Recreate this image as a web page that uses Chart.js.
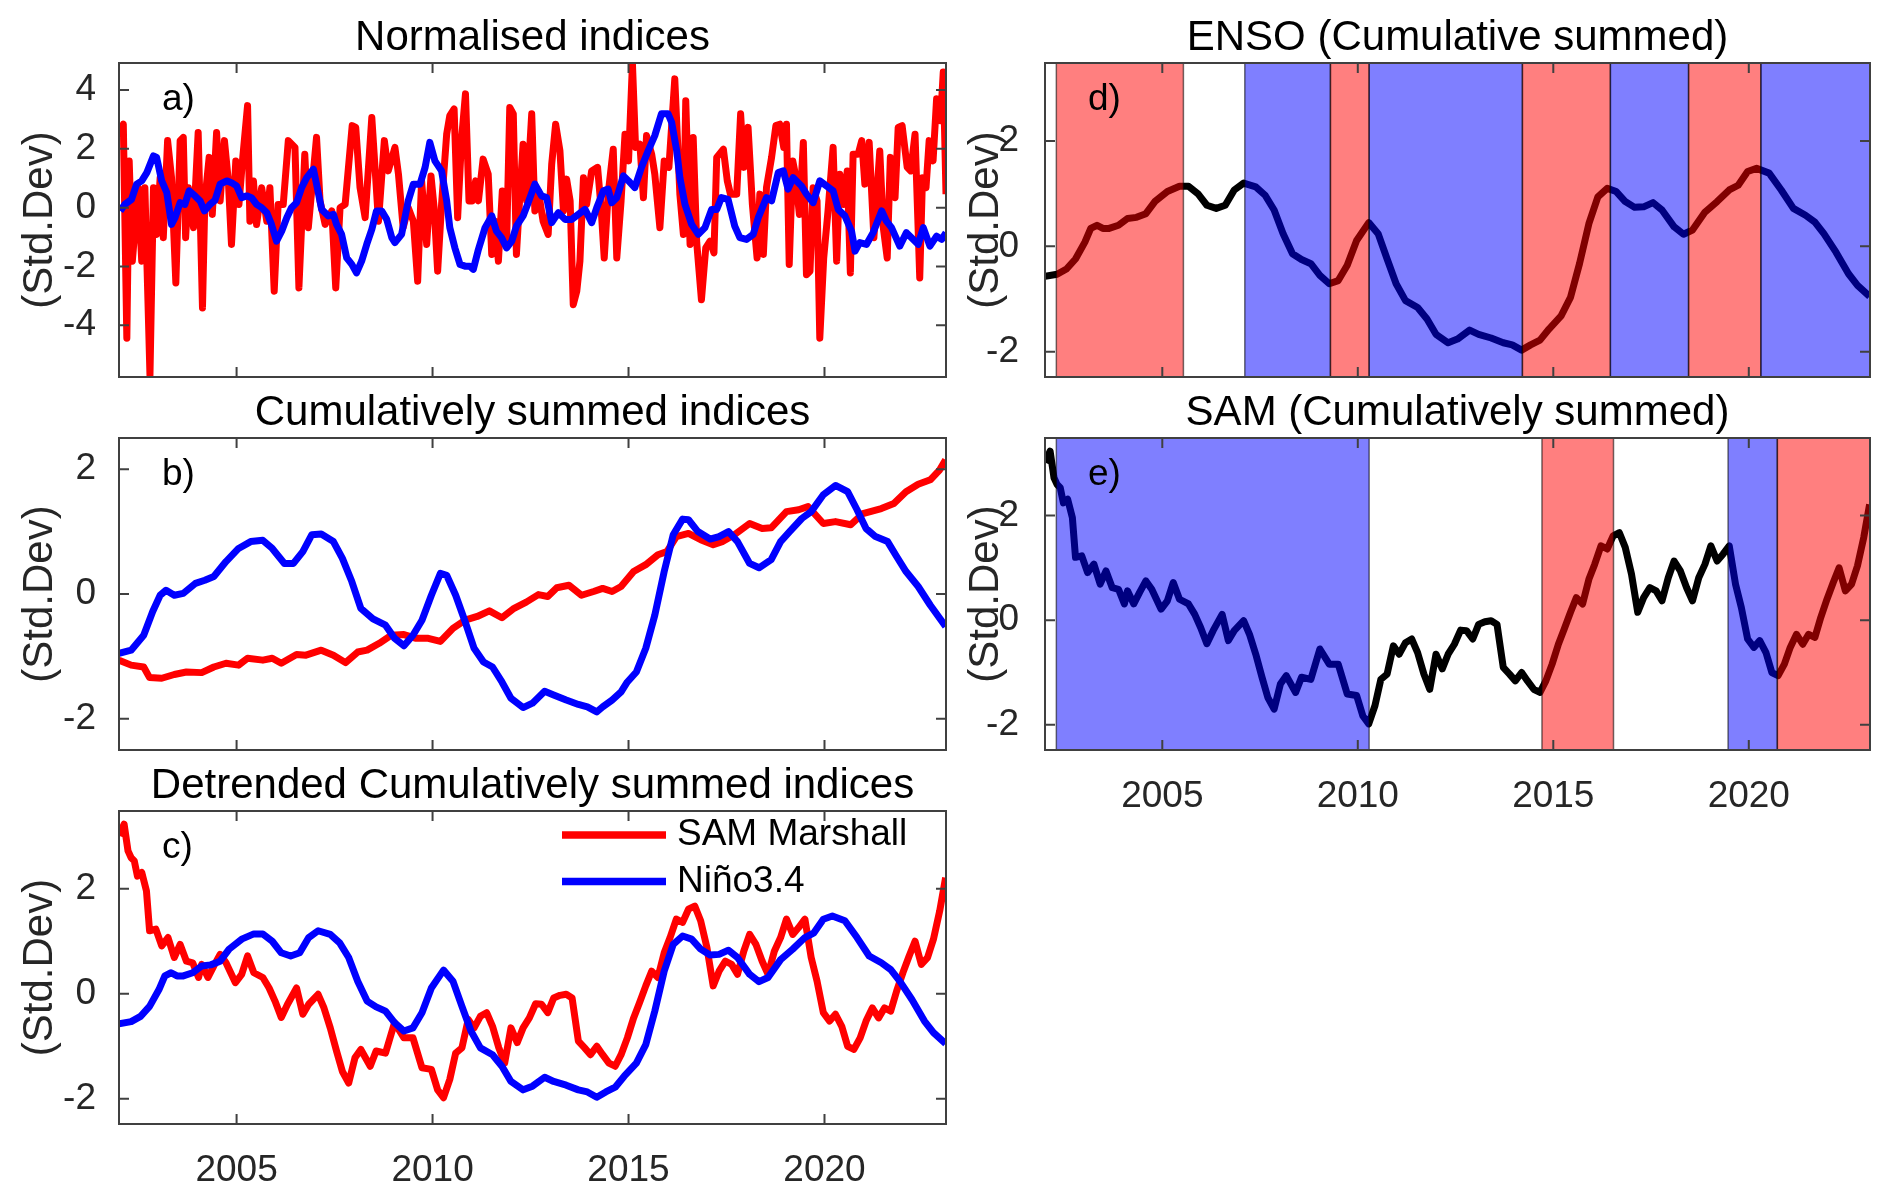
<!DOCTYPE html>
<html>
<head>
<meta charset="utf-8">
<title>SAM and Niño3.4 indices</title>
<script src="https://cdn.jsdelivr.net/npm/chart.js@4.4.1/dist/chart.umd.min.js"></script>
<style>
  html, body { margin: 0; padding: 0; background: #fff; }
  #page { position: relative; width: 1892px; height: 1199px; overflow: hidden; }
  canvas { position: absolute; }
</style>
</head>
<body>
<div id="page">
  <canvas id="panelA" width="960" height="400" style="left:0px;top:0px"></canvas>
  <canvas id="panelB" width="960" height="390" style="left:0px;top:380px"></canvas>
  <canvas id="panelC" width="960" height="444" style="left:0px;top:755px"></canvas>
  <canvas id="panelD" width="942" height="400" style="left:950px;top:0px"></canvas>
  <canvas id="panelE" width="942" height="440" style="left:950px;top:380px"></canvas>
</div>
<script>
// ---- data ----
const yearTicks = [2005, 2010, 2015, 2020];
const normTicks = [-4, -2, 0, 2, 4];
const cumTicks = [-2, 0, 2];

// a) normalised SAM (Marshall)
const samNormYears = [
  2002.00,2002.11,2002.20,2002.26,2002.34,2002.41,2002.49,2002.58,2002.66,2002.79,
  2002.88,2002.96,2003.05,2003.13,2003.24,2003.34,2003.45,2003.56,2003.64,2003.70,
  2003.77,2003.90,2004.02,2004.13,2004.19,2004.30,2004.38,2004.49,2004.58,2004.69,
  2004.79,2004.87,2004.98,2005.06,2005.15,2005.28,2005.34,2005.43,2005.51,2005.64,
  2005.77,2005.85,2005.96,2006.06,2006.19,2006.32,2006.49,2006.59,2006.74,2006.83,
  2007.04,2007.13,2007.26,2007.43,2007.53,2007.64,2007.77,2007.95,2008.04,2008.15,
  2008.28,2008.45,2008.62,2008.77,2008.87,2009.04,2009.13,2009.25,2009.38,2009.51,
  2009.62,2009.72,2009.85,2009.96,2010.04,2010.13,2010.23,2010.36,2010.44,2010.55,
  2010.64,2010.74,2010.84,2010.93,2011.01,2011.10,2011.17,2011.29,2011.42,2011.51,
  2011.59,2011.68,2011.78,2011.89,2011.97,2012.06,2012.14,2012.23,2012.31,2012.40,
  2012.53,2012.61,2012.70,2012.82,2012.95,2013.04,2013.14,2013.25,2013.34,2013.42,
  2013.51,2013.59,2013.68,2013.76,2013.85,2013.93,2014.06,2014.21,2014.30,2014.38,
  2014.48,2014.61,2014.70,2014.81,2014.91,2015.00,2015.10,2015.18,2015.29,2015.38,
  2015.46,2015.59,2015.67,2015.80,2015.91,2016.03,2016.18,2016.31,2016.40,2016.46,
  2016.57,2016.65,2016.74,2016.86,2016.97,2017.08,2017.18,2017.25,2017.42,2017.52,
  2017.60,2017.76,2017.86,2017.94,2018.05,2018.16,2018.28,2018.35,2018.44,2018.52,
  2018.65,2018.76,2018.86,2018.96,2019.03,2019.10,2019.19,2019.24,2019.36,2019.46,
  2019.54,2019.63,2019.71,2019.81,2019.88,2019.98,2020.09,2020.22,2020.31,2020.39,
  2020.49,2020.58,2020.66,2020.73,2020.86,2020.95,2021.03,2021.14,2021.26,2021.41,
  2021.50,2021.60,2021.68,2021.80,2021.88,2021.98,2022.11,2022.20,2022.31,2022.43,
  2022.50,2022.59,2022.67,2022.77,2022.86,2022.96,2023.03,2023.10
];
const samNormValues = [
  2.39,2.84,-4.44,1.59,-1.82,-0.68,0.68,-1.82,0.68,-5.70,
  0.68,-0.91,1.02,-1.02,2.28,1.02,-2.56,2.28,2.39,-1.02,
  0.68,-0.68,2.56,-3.41,0.23,1.71,-0.23,2.56,0.23,2.28,
  0.91,-1.25,1.59,0.11,1.59,3.47,-0.46,0.91,-0.57,0.68,
  -0.46,0.68,-2.84,0.11,0.11,2.28,2.05,-2.73,1.82,-0.68,
  2.39,0.23,-0.57,-0.11,-2.73,0.00,0.11,2.79,2.73,0.68,
  -0.34,3.07,-0.46,2.28,1.25,2.05,1.14,-0.68,0.00,-0.46,
  -2.50,0.91,-1.25,1.08,0.00,-2.16,0.11,2.50,3.13,3.36,
  -0.34,2.33,3.87,0.23,0.23,0.91,0.23,1.65,1.14,-1.59,
  -0.46,-1.82,0.57,-1.14,3.41,3.19,-1.59,0.46,2.16,0.23,
  3.19,-0.11,0.57,-0.46,-0.91,1.48,2.84,1.93,-0.11,0.97,
  0.23,-3.30,-2.84,-1.82,1.02,0.11,1.25,1.37,0.00,-1.71,
  0.46,1.99,-1.71,0.23,2.50,1.59,4.89,2.05,2.16,0.34,
  2.45,1.82,1.14,-0.68,1.59,1.37,4.38,0.46,-0.91,3.64,
  -1.25,2.39,-1.19,-3.13,-1.37,-1.14,-1.54,1.71,1.99,0.91,
  0.46,0.46,3.19,1.37,2.73,0.11,-1.71,0.46,-1.59,0.68,
  1.71,2.79,2.84,2.05,2.84,-1.93,1.59,1.25,-0.23,2.22,
  -2.28,-2.16,0.68,0.23,-4.44,-1.71,-0.11,2.05,-1.82,1.14,
  0.11,1.25,-2.22,1.82,1.82,2.28,0.80,2.22,-1.02,1.93,
  -0.68,-1.71,1.71,0.34,2.73,2.79,1.37,1.25,2.50,-2.39,
  1.02,0.68,2.28,1.59,3.70,2.96,4.61,0.46
];

// a) normalised Niño3.4
const ninoNormYears = [
  2002.03,2002.15,2002.32,2002.45,2002.58,2002.71,2002.88,2002.96,2003.09,2003.22,
  2003.34,2003.43,2003.56,2003.68,2003.79,2003.94,2004.07,2004.18,2004.32,2004.45,
  2004.58,2004.75,2004.87,2005.00,2005.13,2005.26,2005.38,2005.51,2005.64,2005.77,
  2005.89,2006.02,2006.15,2006.28,2006.40,2006.53,2006.66,2006.79,2006.96,2007.04,
  2007.17,2007.34,2007.47,2007.55,2007.68,2007.81,2007.94,2008.06,2008.19,2008.32,
  2008.45,2008.57,2008.70,2008.83,2008.96,2009.04,2009.21,2009.38,2009.51,2009.68,
  2009.81,2009.93,2010.06,2010.23,2010.36,2010.44,2010.57,2010.70,2010.83,2010.95,
  2011.04,2011.17,2011.34,2011.51,2011.63,2011.76,2011.89,2012.02,2012.14,2012.31,
  2012.44,2012.61,2012.78,2012.91,2013.04,2013.21,2013.38,2013.55,2013.72,2013.89,
  2014.06,2014.19,2014.36,2014.48,2014.57,2014.70,2014.87,2015.00,2015.16,2015.33,
  2015.50,2015.67,2015.84,2016.01,2016.10,2016.23,2016.31,2016.44,2016.61,2016.78,
  2016.95,2017.12,2017.25,2017.37,2017.54,2017.71,2017.84,2018.01,2018.18,2018.31,
  2018.52,2018.65,2018.82,2018.95,2019.07,2019.20,2019.41,2019.54,2019.71,2019.88,
  2020.05,2020.22,2020.35,2020.52,2020.69,2020.78,2020.90,2021.07,2021.24,2021.46,
  2021.58,2021.71,2021.92,2022.09,2022.22,2022.39,2022.52,2022.69,2022.86,2022.99,
  2023.10
];
const ninoNormValues = [
  -0.11,0.11,0.28,0.80,0.91,1.19,1.76,1.71,0.91,0.51,
  -0.57,-0.34,0.17,0.11,0.57,0.40,0.23,-0.11,0.11,0.25,
  0.80,0.91,0.85,0.74,0.34,0.40,0.34,0.11,0.00,-0.17,
  -0.57,-1.14,-0.80,-0.34,0.00,0.17,0.68,1.02,1.31,0.80,
  -0.06,-0.28,-0.23,-0.57,-0.91,-1.71,-1.93,-2.22,-1.82,-1.25,
  -0.74,-0.11,-0.11,-0.40,-1.02,-1.19,-0.91,0.23,0.80,0.80,
  1.37,2.22,1.59,1.25,0.23,-0.68,-1.37,-1.93,-1.99,-1.99,
  -2.10,-1.42,-0.68,-0.28,-0.80,-1.02,-1.37,-1.14,-0.63,-0.28,
  0.17,0.80,0.40,0.34,-0.51,-0.17,-0.40,-0.40,-0.23,-0.06,
  -0.51,0.00,0.57,0.63,0.17,0.34,1.08,0.91,0.68,1.37,
  1.93,2.45,3.19,3.19,2.90,1.93,1.02,0.11,-0.57,-0.91,
  -0.68,-0.06,-0.06,0.34,0.28,-0.63,-1.02,-1.08,-0.91,-0.34,
  0.34,0.23,1.19,1.25,0.63,1.02,0.74,0.46,0.17,0.91,
  0.74,0.57,-0.06,-0.28,-0.80,-1.48,-1.19,-1.25,-0.85,-0.11,
  -0.46,-0.68,-1.31,-0.85,-1.02,-1.25,-0.68,-1.31,-0.97,-1.08,
  -0.85
];

// b) cumulatively summed SAM
const samCumYears = [
  2002.00,2002.31,2002.63,2002.78,2003.09,2003.41,2003.72,2004.11,2004.42,2004.73,
  2005.05,2005.28,2005.67,2005.91,2006.14,2006.53,2006.77,2007.16,2007.47,2007.78,
  2008.09,2008.33,2008.64,2008.95,2009.27,2009.58,2009.89,2010.20,2010.52,2010.83,
  2011.14,2011.45,2011.77,2012.08,2012.39,2012.70,2012.94,2013.17,2013.48,2013.80,
  2014.11,2014.34,2014.58,2014.81,2015.13,2015.44,2015.75,2015.98,2016.22,2016.53,
  2016.84,2017.16,2017.39,2017.70,2018.09,2018.41,2018.64,2019.03,2019.34,2019.58,
  2019.97,2020.28,2020.67,2020.98,2021.45,2021.77,2022.08,2022.39,2022.70,2022.94,
  2023.09
];
const samCumValues = [
  -1.06,-1.14,-1.17,-1.34,-1.35,-1.29,-1.25,-1.26,-1.17,-1.11,
  -1.14,-1.03,-1.06,-1.03,-1.11,-0.97,-0.98,-0.90,-0.98,-1.10,
  -0.93,-0.90,-0.79,-0.66,-0.65,-0.71,-0.71,-0.76,-0.55,-0.42,
  -0.36,-0.27,-0.38,-0.23,-0.13,-0.01,-0.04,0.10,0.14,-0.02,
  0.04,0.09,0.04,0.12,0.36,0.47,0.63,0.68,0.92,0.97,
  0.87,0.79,0.84,0.95,1.13,1.05,1.06,1.32,1.35,1.40,
  1.13,1.16,1.11,1.29,1.37,1.45,1.64,1.76,1.83,1.99,
  2.15
];

// b) cumulatively summed Niño3.4
const ninoCumYears = [
  2002.00,2002.31,2002.63,2002.86,2003.05,2003.20,2003.41,2003.64,2003.95,2004.19,
  2004.42,2004.73,2005.05,2005.36,2005.67,2005.91,2006.22,2006.45,2006.69,2006.92,
  2007.16,2007.47,2007.70,2007.94,2008.17,2008.48,2008.80,2009.03,2009.27,2009.50,
  2009.73,2009.97,2010.20,2010.36,2010.59,2010.83,2011.06,2011.30,2011.53,2011.77,
  2012.00,2012.31,2012.55,2012.86,2013.09,2013.41,2013.72,2013.95,2014.19,2014.34,
  2014.58,2014.81,2014.97,2015.20,2015.44,2015.67,2015.91,2016.14,2016.38,2016.53,
  2016.77,2017.08,2017.31,2017.55,2017.78,2018.09,2018.33,2018.64,2018.88,2019.11,
  2019.42,2019.66,2019.97,2020.28,2020.59,2020.83,2021.06,2021.30,2021.61,2021.84,
  2022.08,2022.39,2022.70,2023.09
];
const ninoCumValues = [
  -0.95,-0.90,-0.66,-0.28,-0.02,0.06,-0.02,0.01,0.17,0.22,
  0.28,0.52,0.73,0.84,0.86,0.73,0.49,0.49,0.68,0.95,
  0.96,0.84,0.57,0.20,-0.23,-0.40,-0.50,-0.71,-0.83,-0.66,
  -0.42,-0.02,0.33,0.30,-0.02,-0.44,-0.87,-1.09,-1.17,-1.41,
  -1.67,-1.82,-1.75,-1.56,-1.62,-1.70,-1.77,-1.81,-1.89,-1.81,
  -1.70,-1.57,-1.41,-1.25,-0.87,-0.34,0.36,0.95,1.20,1.19,
  1.00,0.88,0.92,1.00,0.84,0.49,0.42,0.55,0.84,1.00,
  1.21,1.32,1.59,1.74,1.64,1.35,1.05,0.92,0.84,0.60,
  0.36,0.12,-0.18,-0.52
];

// c), e) detrended cumulatively summed SAM
const samDetYears = [
  2002.00,2002.13,2002.23,2002.31,2002.39,2002.47,2002.58,2002.70,2002.78,2002.94,
  2003.09,2003.25,2003.41,2003.56,2003.72,2003.88,2004.03,2004.11,2004.27,2004.42,
  2004.58,2004.73,2004.97,2005.13,2005.28,2005.44,2005.67,2005.83,2005.98,2006.14,
  2006.30,2006.53,2006.69,2006.84,2007.08,2007.23,2007.39,2007.55,2007.70,2007.86,
  2008.02,2008.17,2008.41,2008.56,2008.80,2009.03,2009.27,2009.50,2009.73,2009.97,
  2010.13,2010.28,2010.44,2010.59,2010.75,2010.91,2011.06,2011.22,2011.38,2011.53,
  2011.69,2011.84,2012.00,2012.16,2012.31,2012.47,2012.63,2012.78,2012.94,2013.09,
  2013.25,2013.41,2013.56,2013.72,2013.88,2014.03,2014.19,2014.34,2014.50,2014.66,
  2014.81,2014.97,2015.13,2015.28,2015.44,2015.59,2015.75,2015.91,2016.06,2016.22,
  2016.38,2016.53,2016.69,2016.84,2017.00,2017.16,2017.31,2017.47,2017.63,2017.78,
  2017.94,2018.09,2018.25,2018.41,2018.56,2018.72,2018.88,2019.03,2019.19,2019.34,
  2019.50,2019.66,2019.81,2019.97,2020.13,2020.28,2020.44,2020.59,2020.75,2020.91,
  2021.06,2021.22,2021.38,2021.53,2021.69,2021.84,2022.00,2022.16,2022.31,2022.47,
  2022.63,2022.78,2022.94,2023.09
];
const samDetValues = [
  3.01,3.23,2.72,2.59,2.53,2.24,2.31,1.96,1.20,1.23,
  0.91,1.07,0.69,0.94,0.62,0.59,0.31,0.56,0.31,0.53,
  0.75,0.59,0.21,0.37,0.72,0.40,0.31,0.11,-0.14,-0.45,
  -0.20,0.11,-0.39,-0.20,-0.01,-0.27,-0.65,-1.09,-1.48,-1.70,
  -1.22,-1.06,-1.38,-1.09,-1.13,-0.55,-0.84,-0.84,-1.41,-1.44,
  -1.83,-1.98,-1.63,-1.13,-1.03,-0.49,-0.65,-0.43,-0.36,-0.62,
  -1.03,-1.32,-0.65,-0.93,-0.65,-0.46,-0.19,-0.20,-0.36,-0.08,
  -0.03,-0.01,-0.08,-0.90,-1.03,-1.16,-1.00,-1.16,-1.32,-1.38,
  -1.16,-0.84,-0.46,-0.17,0.15,0.43,0.31,0.78,1.07,1.42,
  1.36,1.61,1.67,1.39,0.88,0.15,0.43,0.62,0.56,0.37,
  0.81,1.13,0.94,0.62,0.37,0.81,1.07,1.42,1.13,1.26,
  1.42,0.69,0.24,-0.36,-0.52,-0.39,-0.62,-1.00,-1.06,-0.84,
  -0.52,-0.27,-0.46,-0.27,-0.33,0.05,0.40,0.72,1.00,0.56,
  0.69,1.04,1.58,2.21
];

// c), d) detrended cumulatively summed Niño3.4
const ninoDetYears = [
  2002.00,2002.31,2002.55,2002.78,2003.02,2003.17,2003.33,2003.48,2003.64,2003.88,
  2004.11,2004.34,2004.58,2004.81,2005.13,2005.44,2005.67,2005.91,2006.14,2006.38,
  2006.61,2006.84,2007.08,2007.39,2007.63,2007.86,2008.09,2008.33,2008.56,2008.80,
  2009.03,2009.27,2009.50,2009.73,2009.97,2010.28,2010.52,2010.75,2010.98,2011.22,
  2011.53,2011.77,2012.00,2012.31,2012.55,2012.86,2013.09,2013.41,2013.72,2013.95,
  2014.19,2014.42,2014.66,2014.89,2015.20,2015.44,2015.67,2015.91,2016.14,2016.38,
  2016.61,2016.84,2017.08,2017.31,2017.55,2017.78,2018.09,2018.33,2018.56,2018.88,
  2019.19,2019.50,2019.73,2019.97,2020.20,2020.52,2020.83,2021.14,2021.45,2021.69,
  2021.92,2022.23,2022.55,2022.78,2023.09
];
const ninoDetValues = [
  -0.57,-0.53,-0.43,-0.24,0.08,0.34,0.40,0.34,0.34,0.40,
  0.53,0.55,0.62,0.85,1.04,1.14,1.14,1.00,0.78,0.72,
  0.78,1.07,1.20,1.13,0.97,0.69,0.24,-0.14,-0.25,-0.33,
  -0.55,-0.71,-0.65,-0.36,0.11,0.45,0.24,-0.24,-0.71,-1.03,
  -1.16,-1.38,-1.67,-1.83,-1.76,-1.59,-1.67,-1.74,-1.83,-1.87,
  -1.97,-1.87,-1.78,-1.57,-1.32,-0.97,-0.33,0.43,0.94,1.10,
  1.04,0.85,0.74,0.75,0.83,0.69,0.37,0.23,0.31,0.65,
  0.85,1.07,1.16,1.42,1.48,1.39,1.07,0.72,0.59,0.46,
  0.24,-0.11,-0.52,-0.74,-0.95
];

// phase shading: edges in years, sign 1 = positive (red), -1 = negative (blue), 0 = none
const ensoPhaseEdges = [2002.29, 2005.54, 2007.11, 2009.30, 2010.29, 2014.21, 2016.46, 2018.46, 2020.31, 2023.10];
const ensoPhaseSigns = [1, 0, -1, 1, -1, 1, -1, 1, -1];
const samPhaseEdges = [2002.29, 2010.29, 2014.71, 2016.54, 2019.47, 2020.73, 2023.10];
const samPhaseSigns = [-1, 0, 1, 0, -1, 1];

// ---- drawing ----
Chart.defaults.font.family = "'Liberation Sans', Arial, Helvetica, sans-serif";
Chart.defaults.color = '#262626';

const AXIS_COLOR = '#404040';
const FONT = "'Liberation Sans', Arial, Helvetica, sans-serif";

function points(xs, ys) {
  return xs.map((x, i) => ({ x: x, y: ys[i] }));
}

function lineSet(label, xs, ys, color, order) {
  return {
    label: label,
    data: points(xs, ys),
    borderColor: color,
    backgroundColor: color,
    borderWidth: 7,
    borderJoinStyle: 'round',
    pointRadius: 0,
    tension: 0,
    fill: false,
    order: order
  };
}

// shading, box with inward ticks, panel letter and legend (MATLAB look)
function panelDecor(cfg) {
  return {
    id: 'panelDecor',
    afterDatasetsDraw(chart) {
      if (!cfg.phaseEdges) return;
      const ctx = chart.ctx, area = chart.chartArea, xs = chart.scales.x;
      ctx.save();
      for (let i = 0; i < cfg.phaseSigns.length; i++) {
        const s = cfg.phaseSigns[i];
        if (s === 0) continue;
        const x0 = xs.getPixelForValue(cfg.phaseEdges[i]);
        const x1 = xs.getPixelForValue(cfg.phaseEdges[i + 1]);
        ctx.fillStyle = s > 0 ? 'rgba(255,0,0,0.5)' : 'rgba(0,0,255,0.5)';
        ctx.fillRect(x0, area.top, x1 - x0, area.height);
        ctx.strokeStyle = 'rgba(0,0,0,0.55)';
        ctx.lineWidth = 1.5;
        ctx.strokeRect(x0, area.top, x1 - x0, area.height);
      }
      ctx.restore();
    },
    afterDraw(chart) {
      const ctx = chart.ctx, area = chart.chartArea;
      const xs = chart.scales.x, ys = chart.scales.y;
      const len = 10;
      ctx.save();
      ctx.strokeStyle = AXIS_COLOR;
      ctx.lineWidth = 2;
      ctx.strokeRect(area.left, area.top, area.width, area.height);
      ctx.beginPath();
      xs.ticks.forEach(t => {
        const px = xs.getPixelForValue(t.value);
        ctx.moveTo(px, area.bottom); ctx.lineTo(px, area.bottom - len);
        ctx.moveTo(px, area.top); ctx.lineTo(px, area.top + len);
      });
      ys.ticks.forEach(t => {
        const py = ys.getPixelForValue(t.value);
        ctx.moveTo(area.left, py); ctx.lineTo(area.left + len, py);
        ctx.moveTo(area.right, py); ctx.lineTo(area.right - len, py);
      });
      ctx.stroke();

      ctx.fillStyle = '#000';
      ctx.font = '37px ' + FONT;
      ctx.textBaseline = 'middle';
      ctx.textAlign = 'left';
      ctx.fillText(cfg.letter, area.left + 43, area.top + 37);

      if (cfg.legend) {
        chart.data.datasets.forEach((ds, i) => {
          const y = area.top + 24 + i * 46.6;
          ctx.strokeStyle = ds.borderColor;
          ctx.lineWidth = 7.5;
          ctx.beginPath();
          ctx.moveTo(area.right - 384, y);
          ctx.lineTo(area.right - 280, y);
          ctx.stroke();
          ctx.fillStyle = '#000';
          ctx.fillText(ds.label, area.right - 269, y);
        });
      }
      ctx.restore();
    }
  };
}

function makePanel(id, cfg) {
  return new Chart(document.getElementById(id), {
    type: 'line',
    data: { datasets: cfg.datasets },
    options: {
      responsive: false,
      animation: false,
      layout: { padding: { left: 0, right: cfg.padRight, top: 0, bottom: 0 } },
      plugins: {
        legend: { display: false },
        tooltip: { enabled: false },
        title: {
          display: true,
          text: cfg.title,
          fullSize: false,
          color: '#000',
          font: { size: 42, weight: 'normal', lineHeight: 1.1 },
          padding: { top: cfg.chartTop - 47.6, bottom: 1.4 }
        }
      },
      scales: {
        x: {
          type: 'linear',
          min: 2002,
          max: 2023.1,
          afterBuildTicks: s => { s.ticks = yearTicks.map(v => ({ value: v })); },
          afterFit: s => { s.height = cfg.xHeight; s.paddingLeft = 0; s.paddingRight = 0; },
          grid: { display: false },
          border: { display: false },
          ticks: {
            display: !!cfg.showYears,
            font: { size: 37 },
            color: '#262626',
            padding: 16.5,
            maxRotation: 0,
            autoSkip: false,
            callback: v => String(v)
          }
        },
        y: {
          min: cfg.yMin,
          max: cfg.yMax,
          afterBuildTicks: s => { s.ticks = cfg.yTicks.map(v => ({ value: v })); },
          afterFit: s => { s.width = cfg.yWidth; s.paddingTop = 0; s.paddingBottom = 0; },
          grid: { display: false },
          border: { display: false },
          ticks: {
            font: { size: 37 },
            color: '#262626',
            padding: cfg.tickPad,
            callback: v => String(v)
          },
          title: {
            display: true,
            text: '(Std.Dev)',
            color: '#262626',
            font: { size: 42 },
            padding: { top: cfg.yTitlePad, bottom: 0 }
          }
        }
      }
    },
    plugins: [panelDecor(cfg)]
  });
}

makePanel('panelA', {
  title: 'Normalised indices', letter: 'a)', chartTop: 63, xHeight: 23,
  yMin: -5.76, yMax: 4.92, yTicks: normTicks, yWidth: 119, padRight: 14, tickPad: 15, yTitlePad: 14.8,
  datasets: [
    lineSet('SAM Marshall', samNormYears, samNormValues, '#ff0000', 1),
    lineSet('Niño3.4', ninoNormYears, ninoNormValues, '#0000ff', 0)
  ]
});

makePanel('panelB', {
  title: 'Cumulatively summed indices', letter: 'b)', chartTop: 58, xHeight: 20,
  yMin: -2.5, yMax: 2.5, yTicks: cumTicks, yWidth: 119, padRight: 14, tickPad: 15, yTitlePad: 14.8,
  datasets: [
    lineSet('SAM Marshall', samCumYears, samCumValues, '#ff0000', 1),
    lineSet('Niño3.4', ninoCumYears, ninoCumValues, '#0000ff', 0)
  ]
});

makePanel('panelC', {
  title: 'Detrended Cumulatively summed indices', letter: 'c)', chartTop: 56, xHeight: 75, showYears: true,
  yMin: -2.48, yMax: 3.48, yTicks: cumTicks, yWidth: 119, padRight: 14, tickPad: 15, yTitlePad: 14.8,
  legend: true,
  datasets: [
    lineSet('SAM Marshall', samDetYears, samDetValues, '#ff0000', 1),
    lineSet('Niño3.4', ninoDetYears, ninoDetValues, '#0000ff', 0)
  ]
});

makePanel('panelD', {
  title: 'ENSO (Cumulative summed)', letter: 'd)', chartTop: 63, xHeight: 23,
  yMin: -2.48, yMax: 3.48, yTicks: cumTicks, yWidth: 95, padRight: 22, tickPad: 18, yTitlePad: 10.8,
  phaseEdges: ensoPhaseEdges, phaseSigns: ensoPhaseSigns,
  datasets: [ lineSet('Niño3.4', ninoDetYears, ninoDetValues, '#000000', 0) ]
});

makePanel('panelE', {
  title: 'SAM (Cumulatively summed)', letter: 'e)', chartTop: 58, xHeight: 70, showYears: true,
  yMin: -2.48, yMax: 3.48, yTicks: cumTicks, yWidth: 95, padRight: 22, tickPad: 18, yTitlePad: 10.8,
  phaseEdges: samPhaseEdges, phaseSigns: samPhaseSigns,
  datasets: [ lineSet('SAM Marshall', samDetYears, samDetValues, '#000000', 0) ]
});
</script>
</body>
</html>
